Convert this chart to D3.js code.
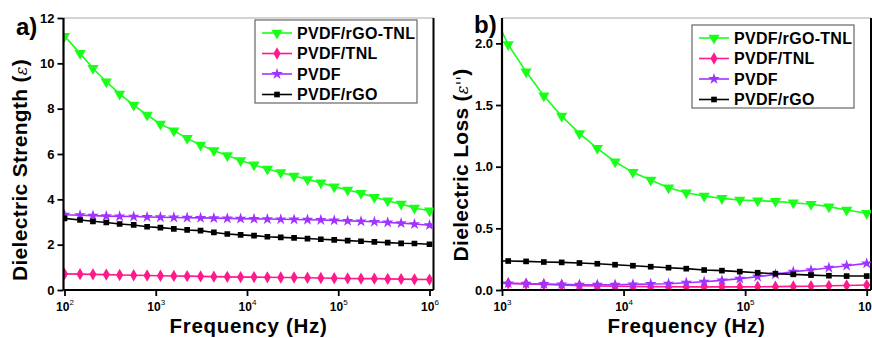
<!DOCTYPE html>
<html><head><meta charset="utf-8">
<script src="https://cdn.jsdelivr.net/npm/d3@7"></script>
<style>
body{margin:0;background:#fff;}
svg{display:block;font-family:"Liberation Sans",Arial,sans-serif;}
</style></head>
<body>
<svg id="c" width="872" height="338"></svg>
<script>
// Frequencies (Hz) of the measured points
const freqs = [100,148,205,287,402,573,804,1125,1578,2208,3098,4335,6081,8511,11940,16720,23440,32810,46010,64440,90360,126800,177500,248900,348300,488700,684000,1000000];

// Panel a) Dielectric strength
const aGreen  = [11.2,10.44,9.78,9.19,8.65,8.16,7.72,7.32,7.03,6.69,6.40,6.15,5.93,5.71,5.53,5.34,5.18,5.03,4.88,4.73,4.56,4.41,4.27,4.09,3.94,3.79,3.62,3.50];
const aPink   = [0.71,0.70,0.69,0.68,0.66,0.65,0.64,0.63,0.62,0.61,0.60,0.59,0.58,0.57,0.57,0.56,0.55,0.55,0.54,0.53,0.52,0.51,0.50,0.50,0.49,0.48,0.47,0.46];
const aPurple = [3.32,3.30,3.28,3.26,3.25,3.24,3.22,3.21,3.20,3.19,3.18,3.17,3.16,3.15,3.14,3.13,3.12,3.11,3.10,3.09,3.07,3.05,3.03,3.01,2.98,2.95,2.91,2.86];
const aBlack  = [3.16,3.09,3.03,2.98,2.91,2.87,2.79,2.75,2.70,2.65,2.62,2.54,2.47,2.43,2.40,2.35,2.32,2.30,2.27,2.24,2.21,2.18,2.15,2.12,2.09,2.06,2.05,2.02];

// Panel b) Dielectric loss (from the 7th frequency, 804 Hz, onward)
const bGreen  = [2.29,1.99,1.77,1.575,1.41,1.27,1.149,1.04,0.954,0.892,0.83,0.789,0.762,0.743,0.73,0.724,0.719,0.708,0.695,0.676,0.649,0.622];
const bPink   = [0.057,0.055,0.05,0.045,0.04,0.035,0.032,0.03,0.028,0.027,0.026,0.025,0.025,0.025,0.025,0.026,0.027,0.029,0.031,0.034,0.037,0.04];
const bPurple = [0.056,0.054,0.051,0.049,0.046,0.043,0.043,0.043,0.046,0.049,0.051,0.059,0.067,0.078,0.092,0.108,0.127,0.149,0.162,0.181,0.197,0.216];
const bBlack  = [0.236,0.235,0.232,0.227,0.224,0.219,0.213,0.205,0.197,0.189,0.181,0.173,0.162,0.157,0.149,0.14,0.132,0.127,0.121,0.116,0.113,0.113];

const seriesNames = ["PVDF/rGO-TNL","PVDF/TNL","PVDF","PVDF/rGO"];
const aTicks = [0,2,4,6,8,10,12];
const bTicks = [0,0.5,1.0,1.5,2.0];
const aXTicks = [1e2,1e3,1e4,1e5,1e6];
const bXTicks = [1e3,1e4,1e5,1e6];

const colors = ["#1aff1a","#ff1a8c","#a033ff","#000000"];
const symbols = [
  d3.symbol().type(d3.symbolTriangle).size(55),
  d3.symbol().type(d3.symbolDiamond).size(44),
  d3.symbol().type(d3.symbolStar).size(42),
  d3.symbol().type(d3.symbolSquare).size(32)
];
const symRot = [180,0,0,0];

const svg = d3.select("#c");

function panel(cfg){
  const g = svg.append("g");
  const x = d3.scaleLog().domain(cfg.xdom).range(cfg.xr);
  const y = d3.scaleLinear().domain(cfg.ydom).range(cfg.yr);
  const L = cfg.frame[0], T = cfg.frame[1], R = cfg.frame[2], B = cfg.frame[3];
  const cid = "clip"+cfg.id;
  svg.append("clipPath").attr("id",cid).append("rect").attr("x",L).attr("y",T).attr("width",R-L).attr("height",B-T);

  g.append("line").attr("x1",L).attr("x2",R).attr("y1",T).attr("y2",T).attr("stroke","#aaa").attr("stroke-width",1.2);
  g.append("line").attr("x1",R).attr("x2",R).attr("y1",T).attr("y2",B).attr("stroke","#000").attr("stroke-width",2);

  const plot = g.append("g").attr("clip-path",`url(#${cid})`);
  cfg.series.forEach((s,i)=>{
    const pts = s.map((v,k)=>[cfg.freqs[k],v]);
    plot.append("path").datum(pts)
      .attr("d",d3.line().x(d=>x(d[0])).y(d=>y(d[1])))
      .attr("fill","none").attr("stroke",colors[i]).attr("stroke-width",1.6);
    plot.selectAll(null).data(pts).enter().append("path")
      .attr("d",symbols[i])
      .attr("transform",d=>`translate(${x(d[0])},${y(d[1])}) rotate(${symRot[i]})`)
      .attr("fill",colors[i]);
  });

  const ya = g.append("g").attr("transform",`translate(${L},0)`)
    .call(d3.axisLeft(y).tickValues(cfg.yticks).tickFormat(cfg.yfmt).tickSize(6).tickPadding(3));
  ya.select(".domain").attr("stroke","#000").attr("stroke-width",2.2).attr("d",`M0,${B}V${T}`);
  ya.selectAll(".tick line").attr("stroke-width",1.8);
  ya.selectAll(".tick text").attr("font-size",13).attr("font-weight","bold").attr("fill","#000")
    .attr("font-family","'Liberation Sans',Arial,sans-serif");

  const xa = g.append("g").attr("transform",`translate(0,${B})`)
    .call(d3.axisBottom(x).tickValues(cfg.xticks).tickFormat("").tickSize(6));
  xa.select(".domain").attr("stroke","#000").attr("stroke-width",2.2).attr("d",`M${L},0H${R}`);
  xa.selectAll(".tick line").attr("stroke-width",1.8);
  xa.selectAll(".tick").each(function(d){
    const t = d3.select(this).append("text").attr("y",21).attr("text-anchor","middle")
      .attr("fill","#000").attr("font-weight","bold").attr("font-size",12)
      .attr("font-family","'Liberation Sans',Arial,sans-serif");
    t.append("tspan").text("10");
    t.append("tspan").attr("dy",-6).attr("font-size",8).attr("font-weight","normal").text(Math.round(Math.log10(d)));
  });

  g.append("text").attr("x",(L+R)/2).attr("y",333).attr("text-anchor","middle")
    .attr("font-weight","bold").attr("font-size",20.5).attr("letter-spacing",0.7).text("Frequency (Hz)");
  const yt = g.append("text").attr("transform",`translate(${cfg.ytx},${cfg.yty}) rotate(-90)`)
    .attr("text-anchor","middle").attr("font-weight","bold").attr("font-size",21).attr("letter-spacing",0.3);
  yt.append("tspan").text(cfg.ytitle+" (");
  yt.append("tspan").attr("font-family","'DejaVu Serif',serif").attr("font-style","italic").attr("font-weight","normal").attr("font-size",16).text(cfg.ysym);
  yt.append("tspan").text(")");

  g.append("text").attr("x",cfg.lab[0]).attr("y",cfg.lab[1]).attr("font-weight","bold").attr("font-size",24).text(cfg.label);

  const lg = g.append("g");
  lg.append("rect").attr("x",cfg.leg[0]).attr("y",cfg.leg[1]).attr("width",cfg.leg[2]).attr("height",cfg.leg[3])
    .attr("fill","#fff").attr("stroke","#666").attr("stroke-width",1.2);
  seriesNames.forEach((n,i)=>{
    const yy = cfg.leg[1]+13+i*20.5;
    const x0 = cfg.leg[0]+7;
    lg.append("line").attr("x1",x0).attr("x2",x0+30).attr("y1",yy).attr("y2",yy).attr("stroke",colors[i]).attr("stroke-width",1.6);
    lg.append("path").attr("d",symbols[i]).attr("transform",`translate(${x0+15},${yy}) rotate(${symRot[i]})`).attr("fill",colors[i]);
    lg.append("text").attr("x",x0+35).attr("y",yy+5.5).attr("font-weight","bold").attr("font-size",16)
      .attr("letter-spacing",0.3).text(n);
  });
}

panel({id:"a", freqs:freqs, series:[aGreen,aPink,aPurple,aBlack],
  xdom:[1e2,1e6], xr:[64.5,429.5], ydom:[0,12], yr:[290,18],
  frame:[63.5,18,433.5,290], yticks:aTicks, yfmt:d3.format("d"), xticks:aXTicks,
  ytitle:"Dielectric Strength", ysym:"ε", ytx:27, yty:170,
  lab:[16,35], label:"a)", leg:[255,20,162,83]});

panel({id:"b", freqs:freqs.slice(6), series:[bGreen,bPink,bPurple,bBlack],
  xdom:[1e3,1e6], xr:[502,866.7], ydom:[0,2.2], yr:[290,18.7],
  frame:[502,18,871,290], yticks:bTicks, yfmt:d3.format(".1f"), xticks:bXTicks,
  ytitle:"Dielectric Loss", ysym:"ε''", ytx:468, yty:165,
  lab:[474,33], label:"b)", leg:[692,25,162,83]});
</script>
</body></html>
